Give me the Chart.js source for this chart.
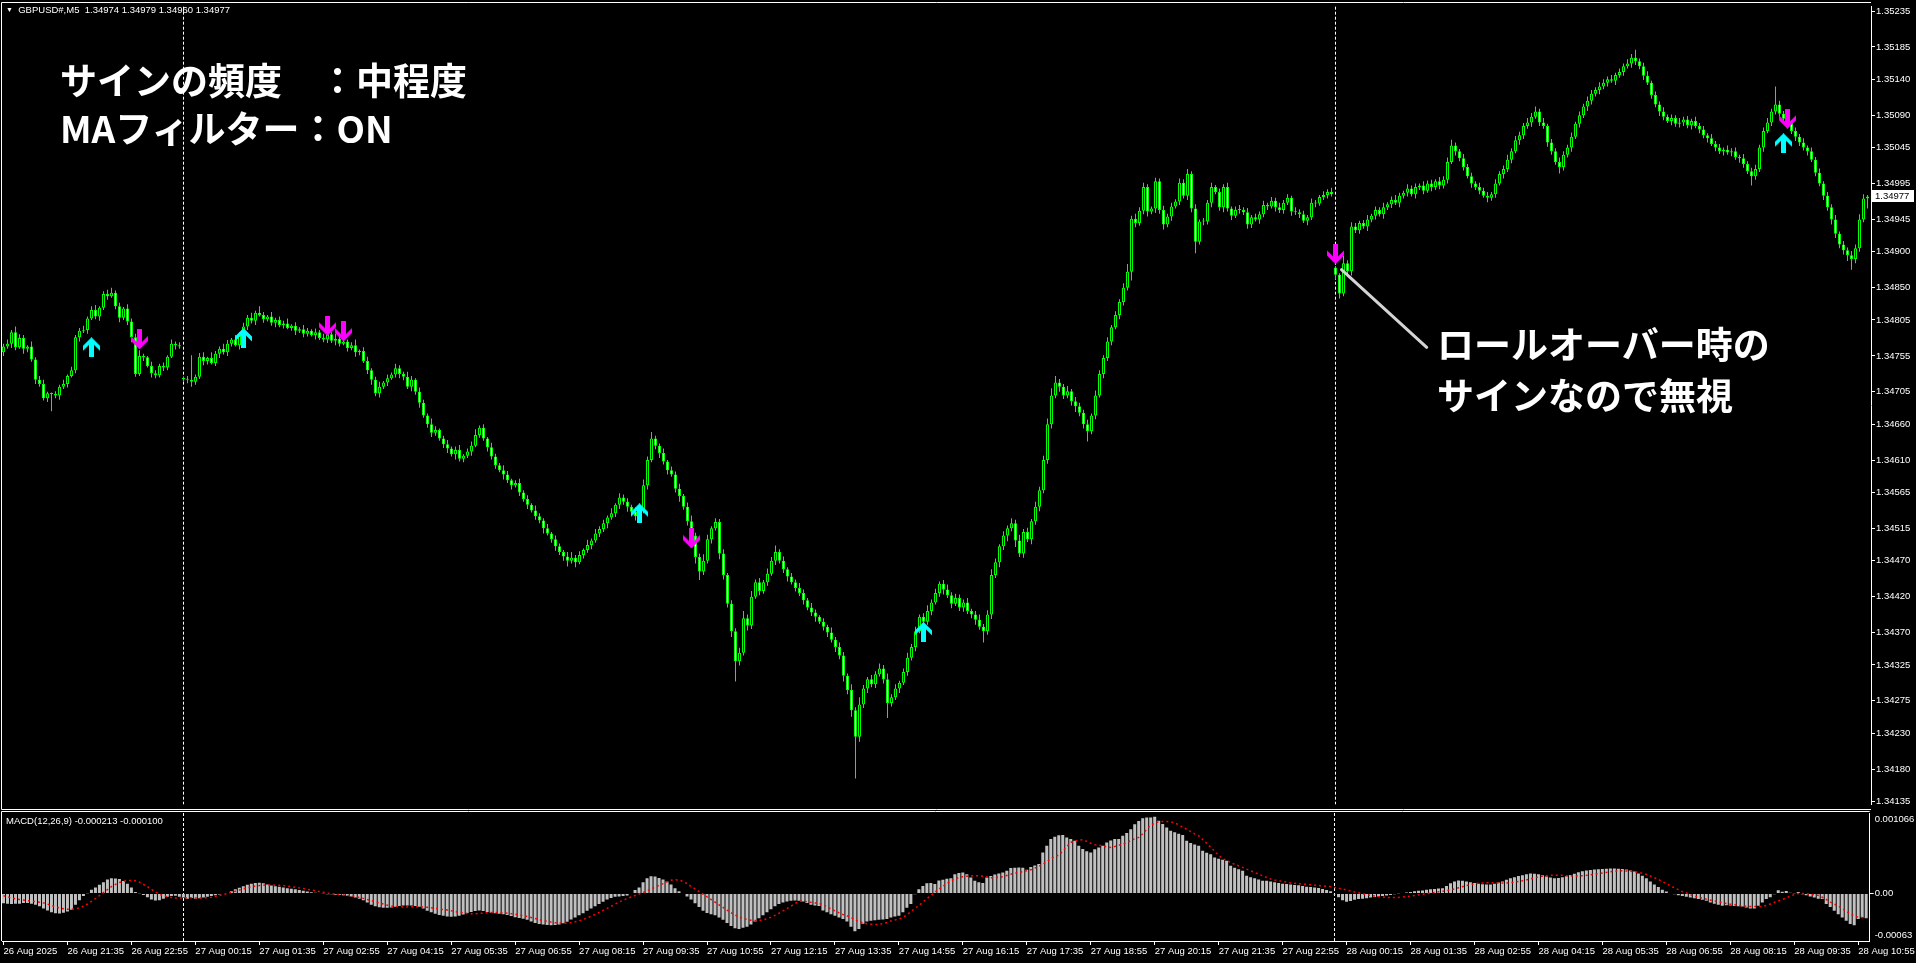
<!DOCTYPE html>
<html><head><meta charset="utf-8">
<script src="https://cdn.jsdelivr.net/npm/chart.js@4.4.1/dist/chart.umd.min.js"></script>
<style>
html,body{margin:0;padding:0;background:#000;overflow:hidden;width:1916px;height:963px;}
canvas{position:absolute;left:0;display:block;}
#main{top:0;} #macd{top:811px;}
.t{position:absolute;color:#fff;white-space:pre;font-family:"Liberation Sans",Arial,sans-serif;font-size:9.5px;line-height:12px;z-index:5;}
.jp{position:absolute;color:#fff;white-space:pre;font-family:"Noto Sans CJK JP",sans-serif;font-weight:700;font-size:37px;line-height:37px;z-index:5;}
</style></head><body>
<canvas id="main" width="1916" height="811"></canvas>
<canvas id="macd" width="1916" height="152"></canvas>
<div class="t" style="left:6px;top:4px;"><span style="font-size:7px;position:relative;top:-1px">▼</span>  GBPUSD#,M5  1.34974 1.34979 1.34960 1.34977</div>
<div class="t" style="left:6px;top:815px;">MACD(12,26,9) -0.000213 -0.000100</div>
<div class="jp" style="left:60px;top:61px;">サインの頻度　：中程度</div>
<div class="jp" style="left:60px;top:109px;">MAフィルター：ON</div>
<div class="jp" style="left:1437px;top:325px;">ロールオーバー時の</div>
<div class="jp" style="left:1437px;top:376px;">サインなので無視</div>
<script>
// ---- DATA (prices in points: price = 1.34 + pts/100000) ----
const BASE = 1.34;
const closePts = [
768,772,788,767,780,765,768,750,722,716,
696,703,702,700,712,716,727,735,781,790,
791,807,819,810,822,841,838,843,824,808,
821,803,781,730,755,753,741,731,728,741,
739,754,772,770,768,723,722,719,726,754,
748,752,745,758,765,760,772,778,770,785,
796,808,804,815,812,806,810,801,805,798,
800,794,797,790,792,786,790,784,788,780,
778,785,776,779,772,775,766,770,760,762,
748,735,722,703,712,718,724,729,738,730,
726,712,722,705,690,672,660,648,652,640,
632,626,618,624,612,616,622,630,645,655,
640,628,615,603,596,590,582,575,578,565,
556,548,540,532,526,515,508,500,490,482,
476,470,474,468,478,485,492,498,508,514,
522,530,536,548,558,552,545,538,532,540,
575,610,640,630,620,608,596,590,570,560,
545,525,505,475,455,470,500,515,524,480,
450,410,372,330,342,390,380,420,440,428,
440,452,470,482,470,458,448,440,432,425,
415,405,398,392,385,378,370,360,350,338,
310,290,262,225,270,292,305,298,312,320,
305,272,280,292,300,315,335,350,372,392,
385,400,412,425,438,430,422,410,418,405,
412,400,395,388,378,372,395,450,468,490,
505,515,522,498,480,510,500,525,545,568,
610,660,700,718,712,700,706,692,685,676,
660,650,672,700,730,752,775,795,812,830,
850,872,946,940,957,990,956,960,998,958,
938,949,963,970,996,978,1008,960,914,942,
942,968,990,983,962,990,960,950,958,958,
955,938,948,945,952,965,963,971,962,958,
968,975,956,955,952,943,948,968,967,976,
979,983,980,868,842,884,873,935,930,940,
935,945,950,958,952,962,966,972,968,978,
982,988,980,990,992,985,995,990,998,992,
1000,1025,1048,1040,1030,1018,1005,995,990,985,
978,975,980,995,1008,1015,1028,1040,1055,1062,
1075,1080,1088,1095,1080,1075,1052,1040,1025,1018,
1035,1045,1060,1078,1090,1102,1110,1120,1125,1130,
1135,1140,1138,1146,1150,1158,1162,1170,1165,1158,
1145,1135,1118,1105,1095,1088,1082,1086,1078,1080,
1084,1076,1082,1075,1070,1062,1058,1050,1045,1040,
1042,1038,1040,1032,1030,1022,1012,1005,1015,1045,
1068,1080,1095,1105,1092,1085,1080,1068,1060,1052,
1045,1040,1028,1010,995,978,962,945,925,910,
902,895,890,905,945,974,977];
const openPts = [
760,768,772,788,767,780,765,768,750,722,
716,696,703,702,700,712,716,727,735,781,
790,791,807,819,810,822,841,838,843,824,
808,821,803,781,730,755,753,741,731,728,
741,739,754,772,770,723,723,722,719,726,
754,748,752,745,758,765,760,772,778,770,
785,796,808,804,815,812,806,810,801,805,
798,800,794,797,790,792,786,790,784,788,
780,778,785,776,779,772,775,766,770,760,
762,748,735,722,703,712,718,724,729,738,
730,726,712,722,705,690,672,660,648,652,
640,632,626,618,624,612,616,622,630,645,
655,640,628,615,603,596,590,582,575,578,
565,556,548,540,532,526,515,508,500,490,
482,476,470,474,468,478,485,492,498,508,
514,522,530,536,548,558,552,545,538,532,
540,575,610,640,630,620,608,596,590,570,
560,545,525,505,475,455,470,500,515,524,
480,450,410,372,330,342,390,380,420,440,
428,440,452,470,482,470,458,448,440,432,
425,415,405,398,392,385,378,370,360,350,
338,310,290,262,225,270,292,305,298,312,
320,305,272,280,292,300,315,335,350,372,
392,385,400,412,425,438,430,422,410,418,
405,412,400,395,388,378,372,395,450,468,
490,505,515,522,498,480,510,500,525,545,
568,610,660,700,718,712,700,706,692,685,
676,660,650,672,700,730,752,775,795,812,
830,850,872,946,940,957,990,956,960,998,
958,938,949,963,970,996,978,1008,960,914,
942,942,968,990,983,962,990,960,950,958,
958,955,938,948,945,952,965,963,971,962,
958,968,975,956,955,952,943,948,968,967,
976,979,983,878,868,842,884,873,935,930,
940,935,945,950,958,952,962,966,972,968,
978,982,988,980,990,992,985,995,990,998,
992,1000,1025,1048,1040,1030,1018,1005,995,990,
985,978,975,980,995,1008,1015,1028,1040,1055,
1062,1075,1080,1088,1095,1080,1075,1052,1040,1025,
1018,1035,1045,1060,1078,1090,1102,1110,1120,1125,
1130,1135,1140,1138,1146,1150,1158,1162,1170,1165,
1158,1145,1135,1118,1105,1095,1088,1082,1086,1078,
1080,1084,1076,1082,1075,1070,1062,1058,1050,1045,
1040,1042,1038,1040,1032,1030,1022,1012,1005,1015,
1045,1068,1080,1095,1105,1092,1085,1080,1068,1060,
1052,1045,1040,1028,1010,995,978,962,945,925,
910,902,895,890,905,945,974];
// upper / lower wick lengths in points
const wickUpPts = [
4,6,3,8,5,4,2,7,3,5,6,2,1,4,3,6,2,5,3,4,
6,3,5,7,2,4,6,7,3,5,2,6,4,5,8,3,2,6,4,3,
5,2,6,3,4,3,4,34,3,5,6,2,8,4,3,7,5,2,6,3,
5,4,7,3,9,4,2,6,3,5,4,7,2,5,3,6,4,2,5,3,
6,4,3,7,5,6,3,4,8,2,5,6,3,4,7,2,5,3,6,4,
3,7,5,2,6,4,3,8,5,2,4,6,3,5,7,2,4,6,8,3,
5,2,6,4,3,7,5,2,4,6,3,5,2,7,4,3,6,2,5,4,
3,6,8,4,5,2,7,3,6,4,5,3,7,2,6,4,5,3,6,4,
8,5,9,4,3,6,2,5,4,7,3,6,8,4,5,9,6,3,5,4,
6,3,5,4,7,10,5,8,4,6,3,7,5,9,4,6,3,5,4,7,
5,3,6,4,2,5,3,7,4,6,5,3,8,4,10,5,3,6,4,7,
5,8,4,6,3,5,7,4,6,3,5,8,4,6,3,5,7,4,6,5,
4,6,3,5,7,4,6,8,5,3,6,4,7,5,8,4,6,3,7,5,
6,8,10,9,5,4,7,3,6,5,4,6,3,7,5,4,6,3,5,4,
6,11,4,7,5,6,4,3,5,4,6,4,5,3,6,5,7,4,6,3,
5,4,6,3,5,4,6,3,5,7,4,6,3,5,4,6,3,5,4,6,
4,5,3,6,4,5,3,6,4,3,5,4,6,2,2,10,4,6,5,3,
4,6,3,5,4,6,3,5,7,4,3,6,4,5,3,6,4,5,3,6,
5,6,8,4,3,6,4,5,3,6,4,5,3,6,4,5,7,4,6,5,
4,6,5,7,4,6,3,5,4,6,5,4,6,3,5,4,6,5,4,6,
5,4,6,3,5,4,6,5,11,4,5,6,3,5,4,6,3,5,4,6,
4,5,3,6,4,5,3,6,4,5,3,6,4,5,3,6,4,5,6,4,
5,6,4,25,5,4,6,3,5,4,6,3,5,4,6,3,5,4,6,3,
5,4,6,5,7,6,2];
const wickDnPts = [
5,3,6,4,2,7,5,3,6,4,3,5,24,4,6,3,5,2,4,6,
3,5,2,4,6,3,5,2,4,6,3,5,7,4,3,5,2,6,4,3,
5,4,2,6,3,4,5,7,4,3,6,5,2,4,6,3,5,4,2,6,
3,5,4,6,2,5,3,4,6,3,5,2,4,6,3,5,4,2,6,3,
4,5,3,6,4,2,5,3,6,4,3,5,7,4,6,3,5,2,4,6,
5,3,6,4,7,3,5,6,4,3,5,6,3,7,4,5,3,6,2,4,
3,6,4,5,3,7,4,6,3,5,4,6,3,5,4,7,3,5,6,4,
6,8,4,7,3,5,4,6,3,5,4,7,3,5,6,4,7,5,6,5,
4,6,3,5,7,4,6,3,5,8,4,6,5,9,12,5,4,6,3,8,
6,5,8,28,6,4,7,5,3,6,4,5,3,6,4,5,7,3,5,4,
6,4,5,7,3,5,6,4,7,5,8,6,9,58,7,5,6,4,5,3,
6,21,5,4,6,3,5,4,6,3,5,4,6,3,5,7,4,6,3,5,
6,4,5,7,4,16,5,6,4,7,5,8,4,9,5,6,4,7,5,6,
4,5,6,4,7,5,4,6,8,5,6,14,4,5,3,6,4,5,3,6,
5,4,12,6,4,5,7,4,6,5,7,4,6,3,5,4,6,5,16,4,
5,4,6,3,5,7,4,6,3,5,4,6,5,3,6,4,5,3,6,4,
5,3,6,4,5,3,6,4,5,3,4,5,3,6,7,4,5,6,4,5,
3,6,4,5,3,6,4,5,3,6,4,5,3,6,4,5,3,6,4,5,
4,5,3,6,4,5,3,6,4,5,3,6,4,5,3,6,4,5,3,6,
5,4,6,3,5,4,6,5,4,9,5,4,6,3,5,4,6,5,4,6,
4,5,3,6,4,5,3,6,5,4,6,3,5,4,6,5,3,6,4,5,
5,4,6,3,5,4,6,3,5,4,6,3,5,4,6,5,4,13,5,4,
6,3,5,4,6,3,5,4,6,5,4,6,3,5,4,6,5,7,6,5,
6,8,15,6,5,4,14];
// MACD main (histogram) and signal, in units of 1e-6
const macdMain = [
-130,-135,-140,-138,-135,-128,-125,-135,-150,-170,-200,-225,-250,-262,-266,-255,-240,-215,-150,-90,
-35,-5,50,80,115,150,185,200,197,190,165,130,80,20,-5,-20,-50,-80,-94,-90,
-70,-45,-35,-30,-45,-55,-70,-60,-70,-65,-55,-45,-35,-25,-15,-8,5,30,55,75,
95,115,130,140,142,135,120,105,95,90,80,70,62,55,45,35,25,15,8,5,
-5,-10,-12,-18,-22,-25,-30,-40,-55,-70,-90,-120,-150,-170,-182,-188,-189,-185,-175,-165,
-160,-160,-158,-165,-175,-200,-230,-250,-270,-285,-295,-305,-310,-305,-295,-280,-260,-245,-232,-225,
-232,-245,-255,-262,-270,-275,-285,-300,-315,-325,-335,-350,-370,-390,-405,-412,-418,-420,-418,-410,
-395,-375,-345,-320,-290,-262,-230,-200,-170,-140,-110,-80,-60,-45,-40,-35,-28,5,45,80,
150,200,228,225,205,185,160,120,70,30,0,-40,-80,-130,-180,-230,-260,-275,-290,-320,
-350,-390,-430,-460,-470,-455,-440,-410,-370,-330,-290,-250,-210,-170,-140,-120,-105,-98,-95,-97,
-105,-125,-150,-160,-165,-225,-250,-275,-296,-318,-340,-370,-440,-500,-470,-400,-370,-362,-355,-350,
-345,-340,-318,-305,-296,-250,-190,-140,-10,55,100,135,137,124,170,180,195,203,256,270,
278,256,212,168,150,137,212,230,250,265,278,300,336,340,344,340,313,350,370,389,
543,632,720,750,770,773,742,720,698,632,590,560,543,587,610,632,676,700,720,720,
764,800,852,918,960,998,1005,1007,1015,963,920,875,830,810,790,773,698,670,650,632,
565,540,521,477,460,445,433,367,340,320,300,234,215,200,185,168,168,160,150,140,
130,125,118,112,110,100,90,85,80,72,60,45,30,-10,-50,-90,-110,-100,-85,-75,
-70,-62,-55,-48,-40,-35,-28,-20,-12,-5,5,12,20,28,35,40,48,55,60,65,
70,100,135,160,170,168,160,150,140,130,122,118,120,130,145,160,180,200,215,230,
242,255,265,262,255,240,225,210,200,205,215,228,245,262,280,295,305,312,318,322,
325,328,330,330,328,325,318,305,290,265,235,200,160,120,85,50,25,5,-10,-25,
-35,-45,-55,-65,-75,-85,-97,-119,-135,-150,-163,-155,-160,-165,-170,-172,-185,-199,-199,-163,
-119,-75,-50,-10,44,22,31,9,-5,18,-9,-25,-40,-53,-70,-75,-140,-180,-230,-274,
-320,-362,-406,-420,-340,-318,-327];
const macdSignal = [
-30,-45,-60,-72,-80,-88,-95,-102,-108,-115,-125,-140,-160,-178,-192,-202,-208,-210,-205,-190,
-170,-140,-105,-70,-30,10,50,90,120,145,162,170,172,168,150,120,90,55,20,-10,
-30,-45,-55,-60,-62,-60,-58,-58,-60,-60,-58,-55,-50,-40,-28,-15,0,15,30,45,
60,75,88,98,105,110,112,112,110,108,104,98,90,82,74,65,55,45,35,25,
15,5,-3,-10,-15,-20,-25,-32,-40,-52,-65,-80,-95,-110,-125,-140,-155,-165,-172,-176,
-178,-178,-176,-175,-175,-178,-183,-190,-198,-205,-212,-220,-230,-240,-250,-258,-265,-268,-268,-265,
-260,-255,-252,-252,-255,-258,-262,-268,-275,-285,-295,-305,-318,-332,-345,-358,-370,-380,-388,-392,
-394,-392,-385,-375,-362,-345,-325,-302,-278,-252,-225,-198,-170,-142,-115,-90,-68,-48,-28,-8,
12,35,60,85,108,130,155,175,183,178,160,130,95,60,25,-10,-45,-80,-115,-150,
-185,-220,-255,-285,-310,-330,-345,-355,-360,-358,-350,-335,-315,-290,-262,-232,-200,-168,-135,-105,
-100,-110,-118,-125,-130,-150,-175,-205,-230,-255,-278,-296,-320,-345,-370,-390,-400,-407,-410,-410,
-400,-385,-365,-352,-340,-315,-285,-240,-200,-160,-115,-70,-30,15,57,95,130,165,190,210,
222,228,232,234,234,228,218,207,210,215,222,238,255,268,278,290,300,313,335,360,
389,420,460,490,508,560,620,676,695,705,711,690,665,645,640,630,618,610,622,638,
650,675,700,725,742,790,850,906,930,950,955,955,950,935,910,880,850,820,790,764,
715,665,610,560,505,460,440,410,385,367,345,322,300,280,255,234,212,192,178,168,
160,150,140,135,130,125,120,115,110,105,100,95,88,80,70,58,45,32,20,8,
-5,-15,-25,-35,-42,-48,-52,-55,-55,-52,-48,-42,-35,-28,-20,-12,-4,5,14,22,
30,38,48,60,75,90,105,118,128,135,140,142,142,140,138,138,140,144,150,158,
168,180,192,205,218,228,235,240,242,242,240,236,233,232,233,236,240,246,254,262,
270,278,286,294,300,300,298,294,288,280,268,252,232,210,185,158,130,102,75,50,
25,5,-15,-35,-50,-62,-75,-88,-100,-112,-122,-132,-142,-150,-158,-165,-170,-173,-174,-174,
-172,-160,-140,-120,-100,-80,-60,-35,-15,0,0,-5,-10,-18,-25,-50,-80,-112,-141,-165,
-200,-235,-274,-295,-315,-320,-322];
// signal arrows
const upArrowBars = [22, 60, 159, 230, 445];
const upArrowPts = [767, 780, 536, 371, 1051];
const downArrowBars = [34, 81, 85, 172, 333, 446];
const downArrowPts = [778, 797, 789, 501, 897, 1085];
// period separators (day start bars)
const separatorBars = [45, 333];
// axis ticks
const priceTicks = [1.35235,1.35185,1.35140,1.35090,1.35045,1.34995,1.34945,1.34900,1.34850,1.34805,1.34755,1.34705,1.34660,1.34610,1.34565,1.34515,1.34470,1.34420,1.34370,1.34325,1.34275,1.34230,1.34180,1.34135];
const tickBars = [0,16,32,48,64,80,96,112,128,144,160,176,192,208,224,240,256,272,288,304,320,336,352,368,384,400,416,432,448,464];
const timeLabels = ["26 Aug 2025","26 Aug 21:35","26 Aug 22:55","27 Aug 00:15","27 Aug 01:35","27 Aug 02:55","27 Aug 04:15","27 Aug 05:35","27 Aug 06:55","27 Aug 08:15","27 Aug 09:35","27 Aug 10:55","27 Aug 12:15","27 Aug 13:35","27 Aug 14:55","27 Aug 16:15","27 Aug 17:35","27 Aug 18:55","27 Aug 20:15","27 Aug 21:35","27 Aug 22:55","28 Aug 00:15","28 Aug 01:35","28 Aug 02:55","28 Aug 04:15","28 Aug 05:35","28 Aug 06:55","28 Aug 08:15","28 Aug 09:35","28 Aug 10:55"];
const macdAxisValues = [1066, 0, -630];
const macdAxisLabels = ["0.001066", "0.00", "-0.00063"];
// rollover note pointer: [bar, pts]
const pointerFrom = [334.5, 875];
const pointerTo = [355.8, 767];

// ---- BUILD ----
const N = closePts.length;
const toP = p => BASE + p / 100000;
const FONT = {family: 'Liberation Sans', size: 9.5};
const X_MIN = -0.375, X_MAX = 466.875;

const wickData = closePts.map((c, i) => ({x: i, y: [toP(Math.min(openPts[i], c) - wickDnPts[i]), toP(Math.max(openPts[i], c) + wickUpPts[i])]}));
const bodyData = closePts.map((c, i) => ({x: i, y: [toP(openPts[i]), toP(c)]}));
const bodyFill = closePts.map((c, i) => c < openPts[i] ? '#ffffff' : '#000000');

function makeArrow(color, up) {
  const c = document.createElement('canvas'); c.width = 17; c.height = 20;
  const g = c.getContext('2d');
  g.translate(8.5, 10); if (!up) g.scale(1, -1);
  g.beginPath();
  g.moveTo(0, -10); g.lineTo(8.5, -1.5); g.lineTo(8.5, 3.5); g.lineTo(2.5, -2.5);
  g.lineTo(2.5, 10); g.lineTo(-2.5, 10); g.lineTo(-2.5, -2.5); g.lineTo(-8.5, 3.5); g.lineTo(-8.5, -1.5);
  g.closePath(); g.fillStyle = color; g.fill();
  return c;
}
const upImg = makeArrow('#00FFFF', true);
const downImg = makeArrow('#FF00FF', false);

const framePlugin = {
  id: 'frame',
  afterDraw(chart, args, opts) {
    const {ctx, chartArea: a} = chart;
    ctx.save(); ctx.strokeStyle = '#fff'; ctx.lineWidth = 1; ctx.setLineDash([]);
    ctx.beginPath();
    ctx.moveTo(a.right, opts.topY); ctx.lineTo(1.5, opts.topY);
    ctx.lineTo(1.5, opts.bottomY);
    if (opts.drawBottom) ctx.lineTo(a.right, opts.bottomY);
    ctx.stroke(); ctx.restore();
  }
};
const sepPlugin = {
  id: 'seps',
  beforeDatasetsDraw(chart) {
    const {ctx, chartArea: a, scales: {x}} = chart;
    ctx.save(); ctx.strokeStyle = '#fff'; ctx.lineWidth = 1; ctx.setLineDash([3, 2]);
    separatorBars.forEach(b => {
      const px = Math.floor(x.getPixelForValue(b)) + 0.5;
      ctx.beginPath(); ctx.moveTo(px, a.top); ctx.lineTo(px, a.bottom); ctx.stroke();
    });
    ctx.restore();
  }
};
const mainExtras = {
  id: 'mainExtras',
  afterDatasetsDraw(chart) {
    const {ctx, scales: {x, y}} = chart;
    ctx.save(); ctx.strokeStyle = '#d4d4d4'; ctx.lineWidth = 3; ctx.lineCap = 'round';
    ctx.beginPath();
    ctx.moveTo(x.getPixelForValue(pointerFrom[0]), y.getPixelForValue(toP(pointerFrom[1])));
    ctx.lineTo(x.getPixelForValue(pointerTo[0]), y.getPixelForValue(toP(pointerTo[1])));
    ctx.stroke(); ctx.restore();
  },
  afterDraw(chart) {
    const {ctx, chartArea: a, scales: {y}} = chart;
    const last = toP(closePts[N - 1]);
    const py = Math.round(y.getPixelForValue(last));
    ctx.save();
    ctx.fillStyle = '#fff'; ctx.fillRect(a.right + 1, py - 6, 42, 12);
    ctx.fillStyle = '#000'; ctx.font = '9.5px "Liberation Sans"'; ctx.textBaseline = 'middle'; ctx.textAlign = 'left';
    ctx.fillText(last.toFixed(5), a.right + 4, py + 0.5);
    ctx.restore();
  }
};
const macdLabels = {
  id: 'macdLabels',
  afterDraw(chart) {
    const {ctx, chartArea: a, scales: {y}} = chart;
    ctx.save(); ctx.fillStyle = '#fff'; ctx.font = '9.5px "Liberation Sans"'; ctx.textBaseline = 'middle'; ctx.textAlign = 'left';
    macdAxisValues.forEach((v, i) => {
      let py = y.getPixelForValue(v);
      py = Math.max(a.top + 6, Math.min(a.bottom - 6, py));
      ctx.fillText(macdAxisLabels[i], a.right + 5, py);
    });
    ctx.restore();
  }
};

function xAxis(visible) {
  return {
    type: 'linear', min: X_MIN, max: X_MAX, offset: false, bounds: 'data', position: 'bottom', display: true,
    afterFit: s => { s.height = visible ? 22 : 0; },
    afterBuildTicks: s => { s.ticks = tickBars.map(v => ({value: v})); },
    ticks: {display: visible, color: '#fff', font: FONT, autoSkip: false, maxRotation: 0, minRotation: 0, align: 'start', padding: 1, callback: (v, i) => timeLabels[i]},
    grid: {display: visible, offset: false, drawOnChartArea: false, drawTicks: visible, tickLength: 4, color: '#fff'},
    border: {display: visible, color: '#fff', width: 1}
  };
}

new Chart(document.getElementById('main'), {
  type: 'bar',
  data: {
    datasets: [
      {type: 'bar', data: wickData, backgroundColor: '#00FF00', barThickness: 1, grouped: false, inflateAmount: 0, borderWidth: 0, order: 3},
      {type: 'bar', data: bodyData, backgroundColor: bodyFill, borderColor: '#00FF00', borderWidth: 1, borderSkipped: false, barThickness: 3, grouped: false, inflateAmount: 0, minBarLength: 1, order: 2},
      {type: 'scatter', data: upArrowBars.map((b, i) => ({x: b, y: toP(upArrowPts[i])})), pointStyle: upImg, pointRadius: 9, order: 0},
      {type: 'scatter', data: downArrowBars.map((b, i) => ({x: b, y: toP(downArrowPts[i])})), pointStyle: downImg, pointRadius: 9, order: 0}
    ]
  },
  options: {
    responsive: false, animation: false, events: [],
    layout: {autoPadding: false, padding: {left: 2, top: 3, bottom: 2, right: 0}},
    plugins: {legend: {display: false}, tooltip: {enabled: false}, frame: {topY: 2.5, bottomY: 809.5, drawBottom: true}},
    scales: {
      x: xAxis(false),
      y: {
        type: 'linear', position: 'right', min: 1.34131, max: 1.35241,
        afterFit: s => { s.width = 45; },
        afterBuildTicks: s => { s.ticks = priceTicks.map(v => ({value: v})); },
        ticks: {color: '#fff', font: FONT, padding: 1, callback: v => Number(v).toFixed(5)},
        grid: {drawOnChartArea: false, drawTicks: true, tickLength: 4, color: '#fff'},
        border: {display: true, color: '#fff', width: 1}
      }
    }
  },
  plugins: [framePlugin, sepPlugin, mainExtras]
});

new Chart(document.getElementById('macd'), {
  type: 'bar',
  data: {
    datasets: [
      {type: 'bar', data: macdMain.map((v, i) => ({x: i, y: v})), backgroundColor: '#C0C0C0', barThickness: 3, grouped: false, inflateAmount: 0, borderWidth: 0, order: 2},
      {type: 'line', data: macdSignal.map((v, i) => ({x: i, y: v})), borderColor: '#FF0000', borderWidth: 1.5, borderDash: [2, 3], pointRadius: 0, tension: 0, fill: false, order: 1}
    ]
  },
  options: {
    responsive: false, animation: false, events: [],
    layout: {autoPadding: false, padding: {left: 2, top: 2, bottom: 0, right: 0}},
    plugins: {legend: {display: false}, tooltip: {enabled: false}, frame: {topY: 0.5, bottomY: 130, drawBottom: false}},
    scales: {
      x: xAxis(true),
      y: {
        type: 'linear', position: 'right', min: -630, max: 1066,
        afterFit: s => { s.width = 45; },
        afterBuildTicks: s => { s.ticks = [{value: 0}]; },
        ticks: {display: false},
        grid: {drawOnChartArea: false, drawTicks: true, tickLength: 4, color: '#fff'},
        border: {display: true, color: '#fff', width: 1}
      }
    }
  },
  plugins: [framePlugin, sepPlugin, macdLabels]
});
</script>
</body></html>
